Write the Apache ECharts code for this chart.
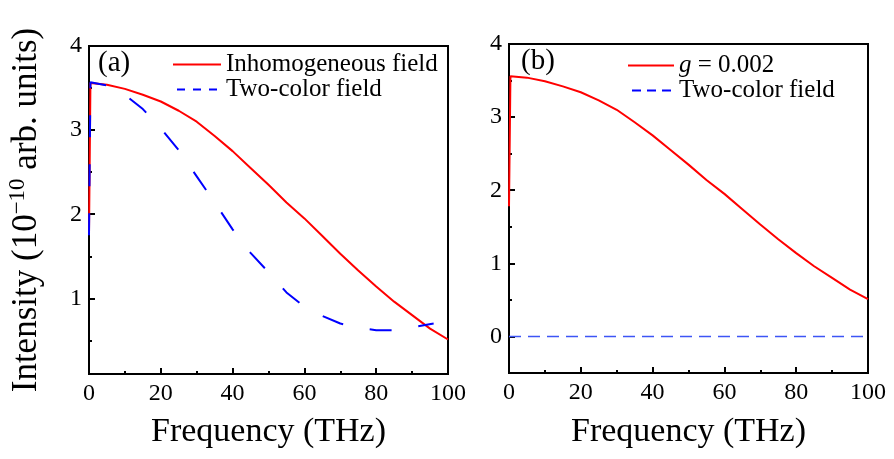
<!DOCTYPE html>
<html><head><meta charset="utf-8">
<script src="https://cdn.jsdelivr.net/npm/echarts@6/dist/echarts.min.js"></script>
<style>html,body{margin:0;padding:0;background:#fff}#c{width:894px;height:459px}</style>
</head><body><div id="c"></div>
<script>
// ---- data ----
const freqRed = [0, 0.4, 5, 10, 15, 20, 25, 30, 35, 40, 45, 50, 55, 60, 65, 70, 75, 80, 85, 90, 95, 100];
const redA    = [1.77, 3.56, 3.54, 3.49, 3.42, 3.34, 3.23, 3.10, 2.93, 2.75, 2.55, 2.35, 2.14, 1.95, 1.74, 1.53, 1.33, 1.14, 0.96, 0.80, 0.64, 0.51];
const redB    = [1.78, 3.56, 3.54, 3.49, 3.42, 3.34, 3.23, 3.10, 2.93, 2.75, 2.55, 2.35, 2.14, 1.95, 1.74, 1.53, 1.33, 1.14, 0.96, 0.80, 0.64, 0.51];
const freqBlue = [0, 0.4, 5, 10, 15, 20, 25, 30, 35, 40, 45, 50, 55, 60, 65, 70, 75, 80, 85, 90, 96];
const blueA    = [1.75, 3.57, 3.53, 3.42, 3.25, 3.02, 2.76, 2.45, 2.14, 1.82, 1.54, 1.31, 1.07, 0.90, 0.79, 0.70, 0.65, 0.62, 0.62, 0.655, 0.70];
const freqFlat = [0, 25, 50, 75, 100];
const blueB    = [0, 0, 0, 0, 0];
const xTicks = [0, 20, 40, 60, 80, 100];
const yTicksA = [1, 2, 3, 4];
const yMinorA = [0.5, 1.5, 2.5, 3.5];
const yTicksB = [0, 1, 2, 3, 4];
const yMinorB = [0.5, 1.5, 2.5, 3.5];
const legendA = ['Inhomogeneous field', 'Two-color field'];
const legendB = ['g = 0.002', 'Two-color field'];

const FONT = 'Liberation Serif';
const pairs = (xs, ys) => xs.map((x, i) => [x, ys[i]]);

const chart = echarts.init(document.getElementById('c'), null, {renderer: 'canvas'});

function xAxisCfg(grid, gap) {
  return {
    gridIndex: grid, type: 'value', min: xTicks[0], max: xTicks[xTicks.length - 1], interval: 20,
    axisLine: {onZero: false, lineStyle: {color: '#000', width: 2}},
    axisTick: {inside: true, length: 6, lineStyle: {color: '#000', width: 2}},
    minorTick: {show: true, splitNumber: 2, length: 3, lineStyle: {color: '#000', width: 2}},
    splitLine: {show: false}, minorSplitLine: {show: false},
    axisLabel: {fontFamily: FONT, fontSize: 24, color: '#000', margin: 8},
    name: 'Frequency (THz)', nameLocation: 'middle', nameGap: gap,
    nameTextStyle: {fontFamily: FONT, fontSize: 34, color: '#000', lineHeight: 34}
  };
}
function yMainCfg(grid, min, max, ticks, withName) {
  const c = {
    gridIndex: grid, type: 'value', min: min, max: max, position: 'left',
    axisLine: {show: true, onZero: false, lineStyle: {color: '#000', width: 2}},
    axisTick: {show: true, inside: true, length: 6, customValues: ticks, lineStyle: {color: '#000', width: 2}},
    axisLabel: {customValues: ticks, fontFamily: FONT, fontSize: 24, color: '#000', margin: 7},
    splitLine: {show: false}
  };
  if (withName) {
    c.name = '{a|Intensity (10}{s|\u221210}{a| arb. units)}';
    c.nameLocation = 'middle';
    c.nameGap = 45;
    c.nameRotate = 90;
    c.nameTextStyle = {
      fontFamily: FONT, color: '#000',
      rich: {
        a: {fontFamily: FONT, fontSize: 35, lineHeight: 38, verticalAlign: 'bottom', color: '#000'},
        s: {fontFamily: FONT, fontSize: 23, lineHeight: 25, verticalAlign: 'top', color: '#000'}
      }
    };
  }
  return c;
}
function yMinorCfg(grid, min, max, ticks) {
  return {
    gridIndex: grid, type: 'value', min: min, max: max, position: 'left', offset: 0,
    axisLine: {show: false, onZero: false},
    axisTick: {show: true, inside: true, length: 3, customValues: ticks, lineStyle: {color: '#000', width: 2}},
    axisLabel: {show: false}, splitLine: {show: false}
  };
}
const hiddenSymbol = {color: 'transparent', borderColor: 'transparent', borderWidth: 0, opacity: 0};

const option = {
  animation: false,
  backgroundColor: '#fff',
  textStyle: {fontFamily: FONT},
  grid: [
    {left: 89, top: 46, width: 359, height: 328, show: true, borderColor: '#000', borderWidth: 2,
     backgroundColor: 'transparent', containLabel: false, outerBoundsMode: 'none'},
    {left: 509, top: 44, width: 359, height: 329, show: true, borderColor: '#000', borderWidth: 2,
     backgroundColor: 'transparent', containLabel: false, outerBoundsMode: 'none'}
  ],
  xAxis: [xAxisCfg(0, 41), xAxisCfg(1, 42)],
  yAxis: [
    yMainCfg(0, 0.1, 4, yTicksA, true),
    yMinorCfg(0, 0.1, 4, yMinorA),
    yMainCfg(1, -0.5, 4, yTicksB, false),
    yMinorCfg(1, -0.5, 4, yMinorB)
  ],
  legend: [
    {
      left: 172, top: 52, padding: 0, orient: 'vertical', itemWidth: 48, itemHeight: 14, itemGap: 0,
      selectedMode: false, itemStyle: hiddenSymbol,
      data: [
        {name: 'redA', lineStyle: {color: '#ff0000', width: 2, type: 'solid'}},
        {name: 'blueA', lineStyle: {color: '#0000ff', width: 2, type: [8, 8], dashOffset: -4}}
      ],
      formatter: n => n === 'redA' ? legendA[0] : legendA[1],
      textStyle: {fontFamily: FONT, fontSize: 25, color: '#000', lineHeight: 25}
    },
    {
      left: 627, top: 53, padding: 0, orient: 'vertical', itemWidth: 46, itemHeight: 14, itemGap: 0,
      selectedMode: false, itemStyle: hiddenSymbol,
      data: [
        {name: 'redB', lineStyle: {color: '#ff0000', width: 2, type: 'solid'}},
        {name: 'blueB', lineStyle: {color: '#0000ff', width: 2, type: [9, 6]}}
      ],
      formatter: n => n === 'redB' ? '{i|g}{n| = 0.002}' : legendB[1],
      textStyle: {fontFamily: FONT, fontSize: 25, color: '#000', lineHeight: 25,
        rich: {i: {fontFamily: FONT, fontSize: 25, fontStyle: 'italic', color: '#000'},
               n: {fontFamily: FONT, fontSize: 25, color: '#000'}}}
    }
  ],
  graphic: [
    {type: 'text', left: 98, top: 49, style: {text: '(a)', fontFamily: FONT, fontSize: 29, fill: '#000'}},
    {type: 'text', left: 521, top: 47, style: {text: '(b)', fontFamily: FONT, fontSize: 29, fill: '#000'}}
  ],
  series: [
    {name: 'redA', type: 'line', xAxisIndex: 0, yAxisIndex: 0, data: pairs(freqRed, redA), symbol: 'none',
     lineStyle: {color: '#ff0000', width: 2}, itemStyle: {color: '#ff0000'}, z: 2},
    {name: 'blueA', type: 'line', xAxisIndex: 0, yAxisIndex: 0, data: pairs(freqBlue, blueA), symbol: 'none',
     lineStyle: {color: '#0000ff', width: 2, type: [22, 27]}, itemStyle: {color: '#0000ff'}, z: 3},
    {name: 'redB', type: 'line', xAxisIndex: 1, yAxisIndex: 2, data: pairs(freqRed, redB), symbol: 'none',
     lineStyle: {color: '#ff0000', width: 2}, itemStyle: {color: '#ff0000'}, z: 3},
    {name: 'blueB', type: 'line', xAxisIndex: 1, yAxisIndex: 2, data: pairs(freqFlat, blueB), symbol: 'none',
     lineStyle: {color: '#3d55f5', width: 1.5, type: [12, 7]}, itemStyle: {color: '#3d55f5'}, z: 2}
  ]
};
chart.setOption(option);
</script>
</body></html>
